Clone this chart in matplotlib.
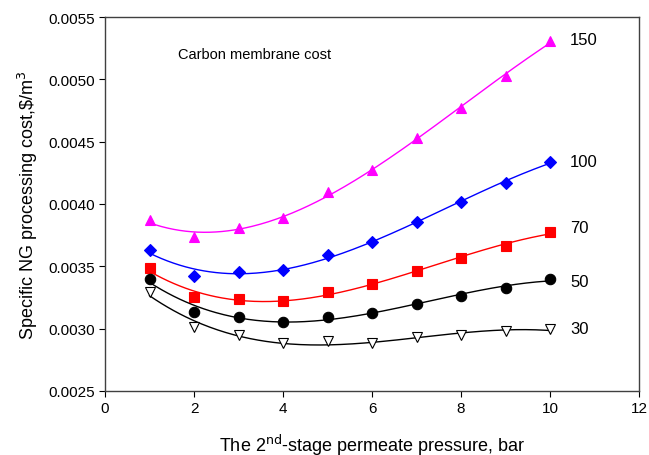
import numpy as np
import matplotlib
matplotlib.use("Agg")
import matplotlib.pyplot as plt

plt.rcParams['font.family'] = ['Liberation Sans', 'DejaVu Sans']

pressure = [1, 2, 3, 4, 5, 6, 7, 8, 9, 10]
cost_150 = [0.003872, 0.003733, 0.003808, 0.003888, 0.004094, 0.004273, 0.004529, 0.004768, 0.005024, 0.005307]
cost_100 = [0.003634, 0.003422, 0.003457, 0.003473, 0.003593, 0.003693, 0.003853, 0.004014, 0.004171, 0.004339]
cost_70 = [0.003484, 0.003256, 0.003235, 0.003224, 0.003294, 0.003356, 0.003465, 0.003565, 0.003666, 0.003773]
cost_50 = [0.003398, 0.003136, 0.003096, 0.003056, 0.003096, 0.003126, 0.003198, 0.003265, 0.003329, 0.003396]
cost_30 = [0.003292, 0.003011, 0.002949, 0.002885, 0.002899, 0.002885, 0.002931, 0.002949, 0.002979, 0.002997]
labels = ["150", "100", "70", "50", "30"]
label_y = [0.00532, 0.00434, 0.00381, 0.003375, 0.0030]

fig = plt.figure(figsize=(6.49, 4.56), dpi=100)
ax = fig.add_axes([0.1618, 0.1404, 0.8228, 0.8201])

series = [
    (cost_150, '#ff00ff', '^', 7.5, '#ff00ff'),
    (cost_100, '#0000ff', 'D', 6.5, '#0000ff'),
    (cost_70, '#ff0000', 's', 6.5, '#ff0000'),
    (cost_50, 'black', 'o', 7.5, 'black'),
    (cost_30, 'black', 'v', 7.5, 'white'),
]

xs = np.linspace(1, 10, 200)
for vals, col, mk, ms, fc in series:
    # polynomial regression curve like the original
    coef = np.polyfit(pressure, vals, 3)
    ax.plot(xs, np.polyval(coef, xs), color=col, lw=1)
    ax.plot(pressure, vals, linestyle='none', marker=mk, markersize=ms,
            markerfacecolor=fc, markeredgecolor=col if fc != 'white' else 'black',
            markeredgewidth=0.8)

for lab, y in zip(labels, label_y):
    ax.text(10.45, y, lab, fontsize=12, va='center', ha='left')

ax.text(3.35, 0.0052, "Carbon membrane cost", fontsize=10.5, ha='center', va='center')

ax.set_xlim(0, 12)
ax.set_ylim(0.0025, 0.0055)
ax.set_xticks(range(0, 13, 2))
ax.set_yticks(np.arange(0.0025, 0.00551, 0.0005))
ax.set_yticklabels([f"{v:.4f}" for v in np.arange(0.0025, 0.00551, 0.0005)])
ax.tick_params(direction='out', labelsize=11, length=4, top=False, right=False)
for s in ax.spines.values():
    s.set_color('#404040')
    s.set_linewidth(1)

ax.set_xlabel("The 2$^{\\mathrm{nd}}$-stage permeate pressure, bar", fontsize=13, labelpad=12)
ax.set_ylabel("Specific NG processing cost,\\$/m$^3$", fontsize=13, labelpad=6)

fig.savefig("out.png", dpi=100)
